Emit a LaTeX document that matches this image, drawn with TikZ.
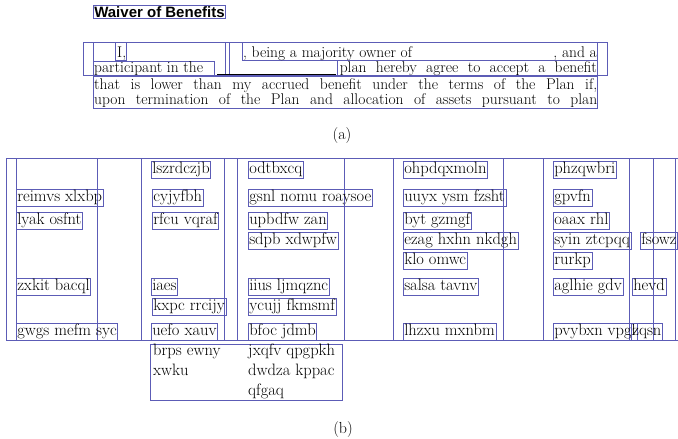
\documentclass[tikz,border=0pt]{standalone}
\usepackage{fontspec}
\newfontfamily\headfont{Liberation Sans}
\definecolor{boxblue}{RGB}{92,92,182}

\begin{document}
\begin{tikzpicture}[x=1pt,y=-1pt,
    frame/.style={draw=boxblue, line width=0.6pt},
    wbox/.style={frame, inner sep=1pt, anchor=north west,
      text height=11.5pt, text depth=3.5pt, font=\fontsize{16.5}{18}\selectfont},
    pline/.style={anchor=base west, inner sep=0pt, font=\fontsize{15.5}{16}\selectfont},
    lowtext/.style={anchor=base west, inner sep=0pt, font=\fontsize{16.5}{18}\selectfont},
    caption/.style={font=\fontsize{16}{18}\selectfont}]
    \useasboundingbox (0,0) rectangle (678,439);
    \clip (0,0) rectangle (678,439);

    % (a) Form text
    \node[frame, inner sep=1pt, anchor=north west,
      font=\headfont\bfseries\fontsize{15}{17}\selectfont] (title) at (93,5) {Waiver of Benefits};

    \draw[frame] (83,42) rectangle (607,75);
    \draw[frame] (93,42) rectangle (597,108);
    \draw[frame] (115,42) rectangle (126,60);
    \draw[frame] (225,42) rectangle (229,75);
    \draw[frame] (93,61) rectangle (214,75);
    \draw[frame] (242,42) rectangle (597,60);
    \draw[frame] (337,60) rectangle (597,75);
    \draw[frame] (93,76) -- (597,76);

    \node[pline] (line1a) at (117,57) {I,};
    \node[pline] (line1b) at (243,57) {, being a majority owner of};
    \node[pline, anchor=base east] (line1c) at (597,57) {, and a};
    \node[pline] (line2a) at (94,72) {participant in the};
    \node[pline, anchor=base east] (line2b) at (597,72) {\makebox[257pt][s]{plan hereby agree to accept a benefit}};
    \draw[line width=0.8pt] (217,74.5) -- (336,74.5);
    \node[pline] (line3) at (94,89) {\makebox[503pt][s]{that is lower than my accrued benefit under the terms of the Plan if,}};
    \node[pline] (line4) at (94,104) {\makebox[503pt][s]{upon termination of the Plan and allocation of assets pursuant to plan}};

    \node[caption] (capa) at (342,136) {(a)};

    % (b) Columns
    \draw[frame] (6,158) -- (678,158);
    \draw[frame] (6,340) -- (678,340);
    \foreach \x in {6,16,97,141,224,237,344,393,503,543,629,653,675}
        \draw[frame] (\x,158) -- (\x,340);

    % (b) Word boxes
    \node[wbox] (lszr) at (151,161) {lszrdczjb};
    \node[wbox] (odtb) at (248,161) {odtbxcq};
    \node[wbox] (ohpd) at (403,161) {ohpdqxmoln};
    \node[wbox] (phzq) at (553,161) {phzqwbri};

    \node[wbox] (reim) at (16,189) {reimvs xlxbp};
    \node[wbox] (cyjy) at (152,189) {cyjyfbh};
    \node[wbox] (gsnl) at (248,189) {gsnl nomu roaysoe};
    \node[wbox] (uuyx) at (403,189) {uuyx ysm fzsht};
    \node[wbox] (gpvf) at (553,189) {gpvfn};

    \node[wbox] (lyak) at (16,212) {lyak osfnt};
    \node[wbox] (rfcu) at (152,212) {rfcu vqraf};
    \node[wbox] (upbd) at (248,212) {upbdfw zan};
    \node[wbox] (bytg) at (403,212) {byt gzmgf};
    \node[wbox] (oaax) at (553,212) {oaax rhl};

    \node[wbox] (sdpb) at (248,232) {sdpb xdwpfw};
    \node[wbox] (ezag) at (403,232) {ezag hxhn nkdgh};
    \node[wbox] (syin) at (553,232) {syin ztcpqq};
    \node[wbox] (fsow) at (640,232) {fsowz};

    \node[wbox] (kloo) at (403,252) {klo omwc};
    \node[wbox] (rurk) at (553,252) {rurkp};

    \node[wbox] (zxki) at (16,278) {zxkit bacql};
    \node[wbox] (iaes) at (151,278) {iaes};
    \node[wbox] (iius) at (248,278) {iius ljmqznc};
    \node[wbox] (sals) at (403,278) {salsa tavnv};
    \node[wbox] (aglh) at (553,278) {aglhie gdv};
    \node[wbox] (hevd) at (632,278) {hevd};

    \node[wbox] (kxpc) at (152,298) {kxpc rrcijy};
    \node[wbox] (ycuj) at (248,298) {ycujj fkmsmf};

    \node[wbox] (gwgs) at (16,323) {gwgs mefm syc};
    \node[wbox] (uefo) at (151,323) {uefo xauv};
    \node[wbox] (bfoc) at (248,323) {bfoc jdmb};
    \node[wbox] (lhzx) at (403,323) {lhzxu mxnbm};
    \node[wbox] (pvyb) at (553,323) {pvybxn vpgl};
    \node[wbox] (zqsn) at (631,323) {zqsn};

    % (b) Lower block
    \draw[frame] (150,344) rectangle (342,400);
    \node[lowtext] (brps) at (153,355) {brps ewny};
    \node[lowtext] (xwku) at (153,375) {xwku};
    \node[lowtext] (jxqf) at (248,355) {jxqfv qpgpkh};
    \node[lowtext] (dwdz) at (248,375) {dwdza kppac};
    \node[lowtext] (qfga) at (248,395) {qfgaq};

    \node[caption] (capb) at (343,430) {(b)};
\end{tikzpicture}
\end{document}
